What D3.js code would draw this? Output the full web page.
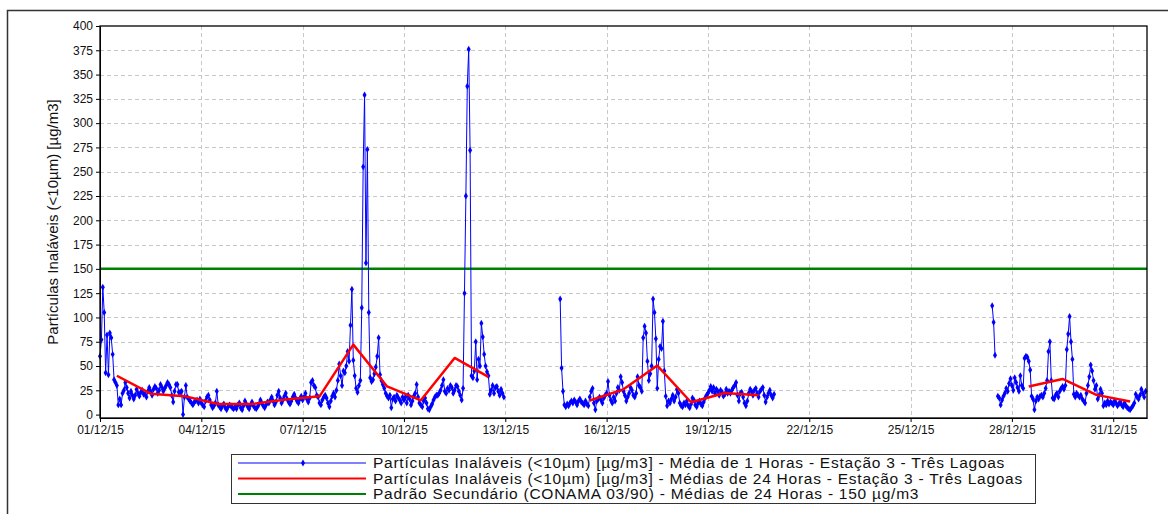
<!DOCTYPE html>
<html>
<head>
<meta charset="utf-8">
<script src="https://cdn.jsdelivr.net/npm/d3@7"></script>
<style>
  body { margin: 0; background: #fff; }
  svg { display: block; font-family: "Liberation Sans", Arial, sans-serif; }
</style>
</head>
<body>
<svg id="chart" width="1168" height="514"></svg>
<script>
// hourly PM10 (µg/m3), each block starts at an hour offset from 01/12/15 00:00
const seg1Start = 0;
const seg1Values = [
  // 01/12
  60, 77, 131, 105, 43, 82, 41, 84, 79, 62, 36, 33, 30, 10, 16, 10, 22, 25, 33, 28, 22, 17, 24, 20,
  // 02/12
  16, 20, 26, 22, 19, 23, 25, 21, 21, 18, 24, 28, 24, 20, 26, 29, 27, 22, 25, 31, 28, 24, 27, 30,
  // 03/12
  33, 31, 28, 20, 13, 24, 31, 31, 23, 23, 24, 0, 18, 30, 18, 16, 14, 12, 10, 13, 14, 15, 12, 16,
  // 04/12
  12, 10, 8, 14, 18, 20, 15, 10, 7, 9, 12, 24, 10, 8, 6, 9, 11, 7, 5, 8, 10, 9, 7, 6,
  // 05/12
  8, 6, 10, 12, 7, 5, 9, 14, 11, 8, 6, 10, 13, 9, 7, 6, 8, 11, 15, 12, 9, 7, 10, 13,
  // 06/12
  12, 15, 18, 14, 10, 13, 20, 24, 17, 12, 15, 19, 22, 16, 13, 11, 14, 18, 21, 17, 14, 12, 16, 19,
  // 07/12
  15, 18, 22, 16, 13, 17, 33, 35, 30, 28, 20, 18, 12, 10, 15, 18, 20, 17, 12, 8, 14, 19, 22, 18,
  // 08/12
  25, 35, 52, 40, 30, 45, 43, 50, 65, 55, 92, 129, 56, 40, 27, 23, 30, 35, 110, 255, 329, 156, 273, 105,
  // 09/12
  38, 34, 36, 42, 49, 60, 79, 41, 35, 31, 27, 22, 19, 17, 20, 7, 16, 18, 14, 20, 17, 15, 12, 18,
  // 10/12
  15, 18, 12, 20, 16, 10, 14, 19, 22, 31, 18, 12, 10, 8, 14, 17, 12, 6, 5, 8, 11, 15, 18, 20,
  // 11/12
  20, 22, 25, 30, 36, 24, 22, 27, 25, 30, 28, 22, 25, 30, 29, 24, 20, 15, 27, 125, 225, 338, 376, 272,
  // 12/12
  40, 38, 45, 75, 36, 57, 50, 94, 80, 62, 50, 44, 40, 21, 25, 30, 22, 28, 29, 24, 20, 26, 22, 18,
];
const seg2Start = 327;
const seg2Values = [
  // 14/12 from 15h
  119, 48, 24, 10, 8, 11, 9, 12, 14,
  // 15/12
  12, 15, 13, 10, 14, 16, 13, 12, 10, 14, 11, 9, 18, 24, 27, 12, 5, 14, 16, 18, 15, 12, 17, 20,
  // 16/12
  22, 34, 20, 15, 12, 18, 14, 22, 28, 25, 39, 33, 24, 20, 14, 18, 22, 28, 25, 20, 18, 22, 39, 30,
  // 17/12
  28, 24, 79, 91, 84, 55, 35, 42, 50, 119, 105, 78, 27, 57, 70, 68, 96, 45, 19, 9, 14, 12, 16, 20,
  // 18/12
  14, 18, 26, 22, 12, 9, 8, 12, 10, 14, 9, 7, 11, 17, 15, 10, 8, 12, 14, 11, 9, 13, 17, 20,
  // 19/12
  22, 25, 29, 24, 28, 22, 26, 24, 20, 25, 23, 19, 21, 26, 22, 24, 22, 25, 28, 30, 33, 20, 14, 22,
  // 20/12
  23, 18, 12, 9, 14, 22, 26, 24, 20, 25, 27, 22, 18, 24, 26, 28, 20, 13, 18, 22, 25, 20, 17, 21,
];
const seg3Start = 634;
const seg3Values = [112, 95, 61];
const seg4Start = 638;
const seg4Values = [
  // 27/12 from 14h
  19, 17, 10, 15, 19, 22, 27, 24, 32, 37,
  // 28/12
  30, 25, 38, 33, 28, 24, 40, 30, 27, 58, 60, 59, 55, 46, 19, 16, 5, 14, 18, 16, 19, 20, 18, 22,
  // 29/12
  27, 35, 65, 75, 35, 17, 16, 20, 22, 18, 24, 27, 29, 26, 30, 67, 83, 101, 75, 57, 21, 18, 22, 20,
  // 30/12
  18, 20, 16, 14, 12, 22, 30, 39, 51, 45, 35, 26, 30, 16, 20, 26, 22, 9, 12, 10, 14, 11, 13, 12,
  // 31/12
  10, 14, 12, 9, 11, 13, 10, 8, 12, 9, 7, 6, 5, 7, 9, 12, 21, 18, 16, 20, 26, 22, 18, 24,
];

// 24h averages (day of December -> value), null breaks the line
const dailyDays = [1, 2, 3, 4, 5, 6, 7, 8, 9, 10, 11, 12, 13, 15, 16, 17, 18, 19, 20, 21, 28, 29, 30, 31];
const dailyValues = [40, 21.5, 19, 11, 11, 15.5, 18.8, 72, 29, 14.7, 58.3, 38.8, null,
  14.5, 26, 50.5, 12.7, 22.3, 20, null, 29, 36.7, 20.3, 13.4];

const standardValue = 150;
const xTickDays = [1, 4, 7, 10, 13, 16, 19, 22, 25, 28, 31];
const yTicks = d3.range(0, 401, 25);

const legendLabels = [
  "Partículas Inaláveis (<10µm) [µg/m3] - Média de 1 Horas - Estação 3 - Três Lagoas",
  "Partículas Inaláveis (<10µm) [µg/m3] - Médias de 24 Horas - Estação 3 - Três Lagoas",
  "Padrão Secundário (CONAMA 03/90) - Médias de 24 Horas - 150 µg/m3",
];
const legendColors = ["#0000ff", "#ff0000", "#008000"];

const svg = d3.select("#chart");
const t0 = new Date(2015, 11, 1);
const hourDate = (h) => d3.timeHour.offset(t0, h);

// outer frame
svg.append("rect")
  .attr("x", 7.5).attr("y", 10.5)
  .attr("width", 1300).attr("height", 700)
  .attr("fill", "none").attr("stroke", "#333").attr("stroke-width", 1.5);

const x = d3.scaleTime().domain([t0, new Date(2016, 0, 1)]).range([100, 1147]);
const y = d3.scaleLinear().domain([-3.5, 400]).range([418, 26]);

// hourly points, with nulls between blocks
const blocks = [
  [seg1Start, seg1Values],
  [seg2Start, seg2Values],
  [seg3Start, seg3Values],
  [seg4Start, seg4Values],
];
const hourly = [];
blocks.forEach(([start, vals], bi) => {
  if (bi > 0) hourly.push({ date: hourDate(start - 1), value: null });
  vals.forEach((v, i) => hourly.push({ date: hourDate(start + i), value: v }));
});

const daily = dailyDays.map((d, i) => ({
  date: d3.timeHour.offset(new Date(2015, 11, d), 12),
  value: dailyValues[i],
}));

// grid
const grid = svg.append("g")
  .attr("stroke", "#c8c8c8")
  .attr("stroke-dasharray", "4,3");
grid.selectAll("line.h")
  .data(yTicks.filter((v) => v > 0 && v < 400))
  .join("line")
  .attr("x1", 100).attr("x2", 1147)
  .attr("y1", (d) => Math.round(y(d)) + 0.5).attr("y2", (d) => Math.round(y(d)) + 0.5);
grid.selectAll("line.v")
  .data(xTickDays.slice(1))
  .join("line")
  .attr("x1", (d) => Math.round(x(new Date(2015, 11, d))) + 0.5)
  .attr("x2", (d) => Math.round(x(new Date(2015, 11, d))) + 0.5)
  .attr("y1", 26).attr("y2", 418);

// CONAMA standard
svg.append("line")
  .attr("x1", 100).attr("x2", 1147)
  .attr("y1", y(standardValue)).attr("y2", y(standardValue))
  .attr("stroke", "#008000").attr("stroke-width", 2.5);

// hourly line + markers
svg.append("path")
  .datum(hourly)
  .attr("fill", "none")
  .attr("stroke", "#0000ff")
  .attr("stroke-width", 1)
  .attr("d", d3.line()
    .defined((d) => d.value !== null)
    .x((d) => x(d.date))
    .y((d) => y(d.value)));

const diamond = d3.symbol().type(d3.symbolDiamond).size(14);
svg.append("g")
  .attr("fill", "#0000ff")
  .selectAll("path")
  .data(hourly.filter((d) => d.value !== null))
  .join("path")
  .attr("transform", (d) => `translate(${x(d.date)},${y(d.value)})`)
  .attr("d", diamond);

// 24h averages
svg.append("path")
  .datum(daily)
  .attr("fill", "none")
  .attr("stroke", "#ff0000")
  .attr("stroke-width", 2.5)
  .attr("stroke-linejoin", "round")
  .attr("d", d3.line()
    .defined((d) => d.value !== null)
    .x((d) => x(d.date))
    .y((d) => y(d.value)));

// plot frame
svg.append("rect")
  .attr("x", 100).attr("y", 26)
  .attr("width", 1047).attr("height", 392)
  .attr("fill", "none").attr("stroke", "#000").attr("stroke-width", 1.3);

// axes
const yAxis = svg.append("g")
  .attr("transform", "translate(100,0)")
  .call(d3.axisLeft(y).tickValues(yTicks).tickSize(4).tickSizeOuter(0));
const xAxis = svg.append("g")
  .attr("transform", "translate(0,418)")
  .call(d3.axisBottom(x)
    .tickValues(xTickDays.map((d) => new Date(2015, 11, d)))
    .tickFormat(d3.timeFormat("%d/%m/%y"))
    .tickSize(4).tickSizeOuter(0));
[yAxis, xAxis].forEach((g) => {
  g.select(".domain").attr("stroke", "#000");
  g.selectAll(".tick line").attr("stroke", "#000");
  g.selectAll("text")
    .attr("font-family", "Liberation Sans, Arial, sans-serif")
    .attr("font-size", 12)
    .attr("fill", "#111");
});

svg.append("text")
  .attr("transform", "translate(58,222) rotate(-90)")
  .attr("text-anchor", "middle")
  .attr("font-size", 15)
  .attr("fill", "#111")
  .text("Partículas Inaláveis (<10µm) [µg/m3]");

// legend
const legend = svg.append("g");
legend.append("rect")
  .attr("x", 231.5).attr("y", 454.5)
  .attr("width", 804).attr("height", 49)
  .attr("fill", "#fff").attr("stroke", "#333");
const item = legend.selectAll("g")
  .data(legendLabels)
  .join("g")
  .attr("transform", (d, i) => `translate(0,${463 + i * 15.5})`);
item.append("line")
  .attr("x1", 238).attr("x2", 366)
  .attr("stroke", (d, i) => legendColors[i])
  .attr("stroke-width", (d, i) => (i === 0 ? 1 : 2));
item.filter((d, i) => i === 0)
  .append("path")
  .attr("transform", "translate(303,0)")
  .attr("fill", "#0000ff")
  .attr("d", diamond);
item.append("text")
  .attr("x", 373)
  .attr("dy", "0.35em")
  .attr("font-size", 15.5)
  .attr("letter-spacing", 0.75)
  .attr("fill", "#111")
  .text((d) => d);
</script>
</body>
</html>
